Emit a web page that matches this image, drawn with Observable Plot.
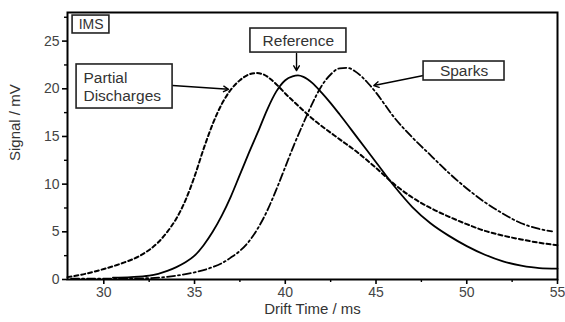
<!DOCTYPE html>
<html><head><meta charset="utf-8">
<script src="https://cdn.jsdelivr.net/npm/d3@7"></script>
<script src="https://cdn.jsdelivr.net/npm/@observablehq/plot@0.6"></script>
<style>body{margin:0;background:#fff;} svg{display:block}</style>
</head><body><div id="chart"></div>
<script>
// Partial Discharges (dotted)
const pdTime   = [28.0,29.0,30.0,31.0,32.0,32.5,33.0,33.5,34.0,34.5,35.0,35.5,36.0,36.5,37.0,37.5,38.0,38.4,38.8,39.2,39.6,40.0,40.5,41.0,41.5,42.0,43.0,44.0,45.0,46.0,47.0,48.0,49.0,50.0,51.0,52.0,53.0,54.0,55.0];
const pdSignal = [0.25,0.6,1.1,1.7,2.5,3.1,3.9,5.0,6.4,8.3,10.8,13.7,16.3,18.4,19.9,20.9,21.5,21.65,21.5,21.0,20.3,19.5,18.6,17.7,16.85,16.1,14.7,13.3,11.7,10.0,8.6,7.5,6.6,5.8,5.1,4.6,4.2,3.85,3.6];
// Reference (solid)
const refTime   = [30.5,31.5,32.5,33.0,33.5,34.0,34.5,35.0,35.5,36.0,36.5,37.0,37.5,38.0,38.5,39.0,39.5,40.0,40.4,40.7,41.0,41.5,42.0,42.5,43.0,44.0,45.0,46.0,47.0,48.0,49.0,50.0,51.0,52.0,53.0,54.0,55.0];
const refSignal = [0.2,0.25,0.4,0.6,0.9,1.3,1.8,2.5,3.6,5.0,6.7,8.7,11.0,13.3,15.5,17.8,19.7,20.9,21.3,21.4,21.25,20.6,19.6,18.5,17.3,14.8,12.3,9.8,7.6,5.9,4.6,3.5,2.6,1.9,1.45,1.2,1.15];
// Sparks (dash-dot)
const spTime   = [28.2,30.0,32.0,33.0,34.0,35.0,36.0,36.5,37.0,37.5,38.0,38.5,39.0,39.5,40.0,40.5,41.0,41.5,42.0,42.5,43.0,43.4,43.8,44.2,44.6,45.0,45.5,46.0,46.5,47.0,47.5,48.0,48.5,49.0,50.0,51.0,52.0,53.0,54.0,54.7];
const spSignal = [0.1,0.1,0.12,0.2,0.4,0.75,1.3,1.7,2.3,3.0,4.0,5.4,7.2,9.4,11.8,14.2,16.4,18.5,20.3,21.5,22.15,22.2,21.9,21.3,20.5,19.6,18.3,17.0,15.9,14.9,13.95,13.05,12.1,11.2,9.55,8.1,6.9,5.9,5.3,5.05];

const xTicks = [30,35,40,45,50,55];
const xMinor = [32.5,37.5,42.5,47.5,52.5];
const yTicks = [0,5,10,15,20,25];
const yMinor = [2.5,7.5,12.5,17.5,22.5,27.5];

// annotation boxes (data units)
const boxX1 = [28.28,28.5,38.08,47.62];
const boxX2 = [30.31,33.79,43.37,52.08];
const boxY1 = [25.8,17.93,23.8,20.87];
const boxY2 = [27.68,22.55,26.32,22.86];
// centred labels
const cLabels = ["IMS","Reference","Sparks"];
const cLabelX = [29.3,40.72,49.85];
const cLabelY = [26.74,25.06,21.87];
// left-aligned label
const pdLabel = "Partial\nDischarges";
const pdLabelX = [28.88];
const pdLabelY = [20.24];
// arrows
const arrX1 = [33.79,40.62,47.62];
const arrY1 = [20.35,23.7,21.39];
const arrX2 = [36.87,40.62,44.88];
const arrY2 = [19.95,21.9,20.34];

const toRows = (t, s) => t.map((d, i) => ({t: d, s: s[i]}));
const boxes = boxX1.map((d, i) => ({x1: d, x2: boxX2[i], y1: boxY1[i], y2: boxY2[i]}));
const cRows = cLabels.map((l, i) => ({l, x: cLabelX[i], y: cLabelY[i], fs: i === 0 ? 14 : 15.5}));
const arrows = arrX1.map((d, i) => ({x1: d, y1: arrY1[i], x2: arrX2[i], y2: arrY2[i]}));

const font = "'Liberation Sans', Arial, Helvetica, sans-serif";

const chart = Plot.plot({
  width: 565, height: 322,
  marginLeft: 67, marginRight: 8, marginTop: 12, marginBottom: 43,
  style: {fontFamily: font, background: "#fff", color: "#000"},
  x: {domain: [28, 55]},
  y: {domain: [0, 28]},
  marks: [
    Plot.axisX(xTicks, {tickSize: 5, tickPadding: 3, fontSize: 14, fill: "#444", stroke: "#000", strokeWidth: 1.6, label: null}),
    Plot.axisX(xMinor, {tickSize: 3, tickFormat: () => "", stroke: "#000", strokeWidth: 1.4, label: null}),
    Plot.axisY(yTicks, {tickSize: 5, tickPadding: 3, fontSize: 14, fill: "#444", stroke: "#000", strokeWidth: 1.6, label: null}),
    Plot.axisY(yMinor, {tickSize: 3, tickFormat: () => "", stroke: "#000", strokeWidth: 1.4, label: null}),
    Plot.line(toRows(pdTime, pdSignal), {x: "t", y: "s", stroke: "#000", strokeWidth: 2, strokeDasharray: "4,3", curve: "monotone-x"}),
    Plot.line(toRows(refTime, refSignal), {x: "t", y: "s", stroke: "#000", strokeWidth: 1.8, curve: "monotone-x"}),
    Plot.line(toRows(spTime, spSignal), {x: "t", y: "s", stroke: "#000", strokeWidth: 1.8, strokeDasharray: "8,3,2,3", curve: "monotone-x"}),
    Plot.arrow(arrows, {x1: "x1", y1: "y1", x2: "x2", y2: "y2", stroke: "#000", strokeWidth: 1.4, headLength: 6, bend: 0}),
    Plot.rect(boxes, {x1: "x1", x2: "x2", y1: "y1", y2: "y2", fill: "#fff", stroke: "#222", strokeWidth: 1.6}),
    Plot.text(cRows, {x: "x", y: "y", text: "l", textAnchor: "middle", fontSize: "fs", fill: "#333"}),
    Plot.text([pdLabel], {x: () => pdLabelX[0], y: () => pdLabelY[0], text: d => d, textAnchor: "start", fontSize: 15.5, fill: "#333", lineHeight: 1.15}),
    Plot.text(["Drift Time / ms"], {frameAnchor: "bottom", dy: 34, fontSize: 15, fill: "#333"}),
    Plot.text(["Signal / mV"], {frameAnchor: "left", dx: -52, dy: 15, rotate: -90, fontSize: 15, fill: "#333"}),
    Plot.frame({stroke: "#000", strokeWidth: 2})
  ]
});
document.getElementById("chart").appendChild(chart);
</script>
</body></html>
